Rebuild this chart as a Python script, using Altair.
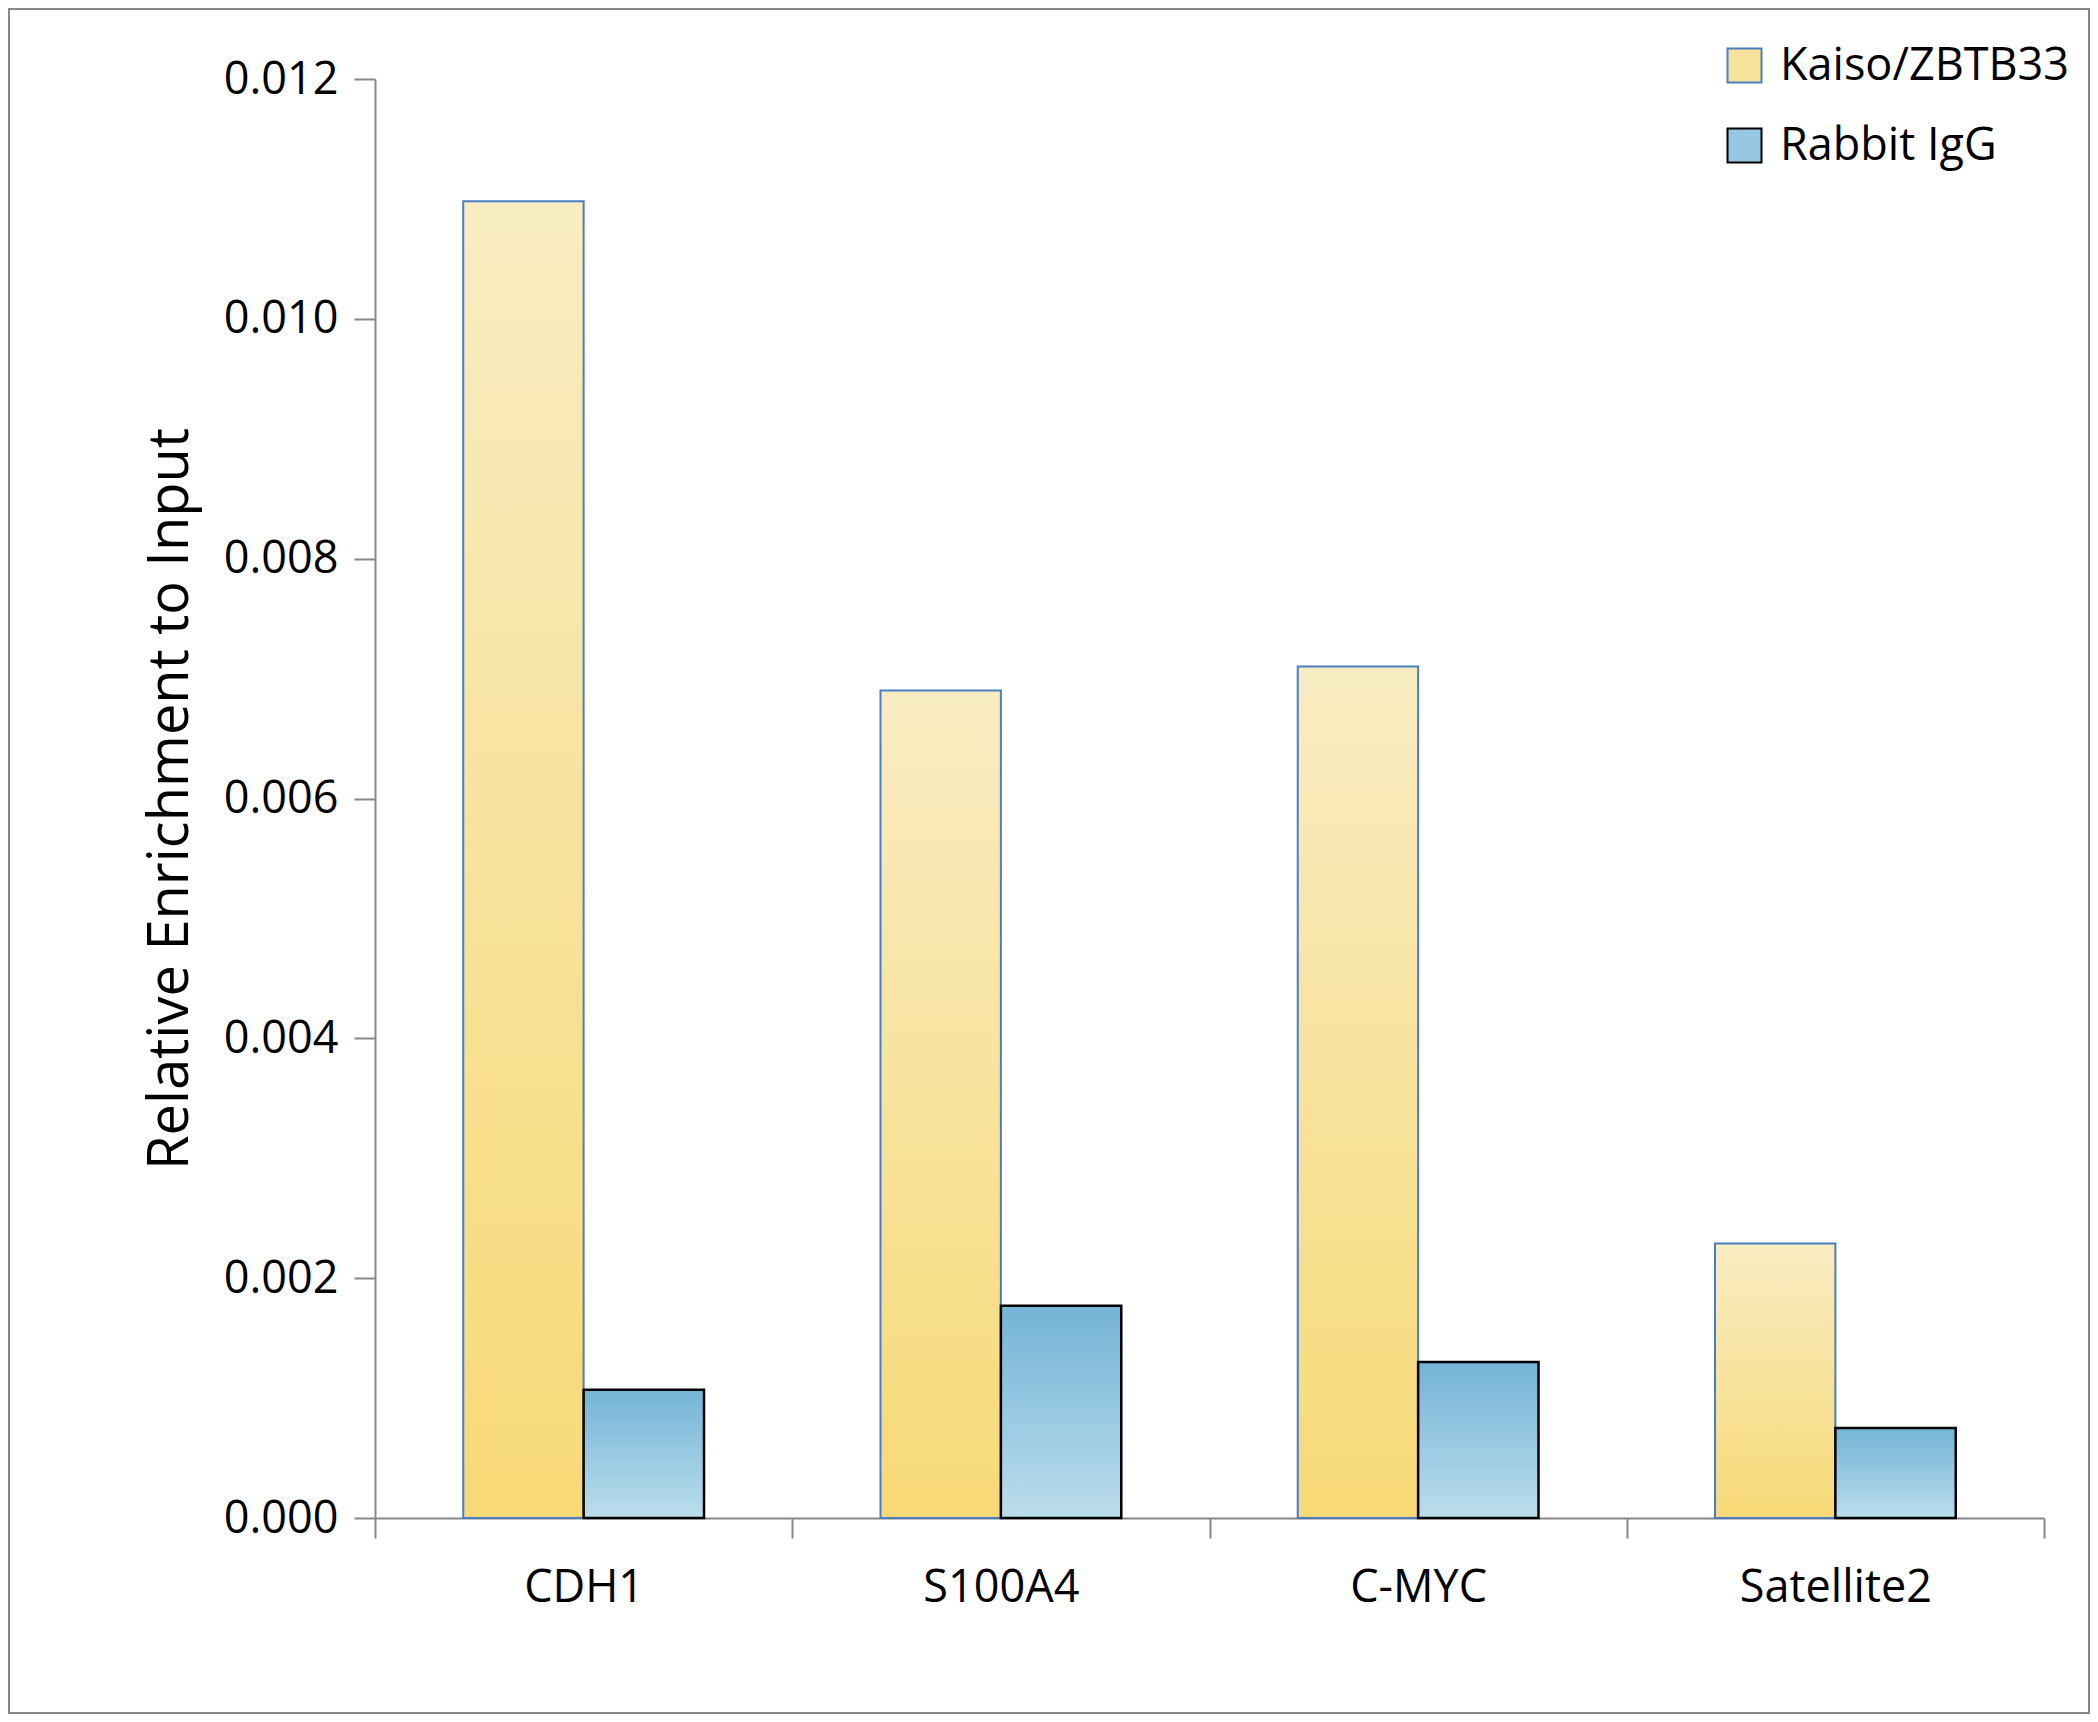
import altair as alt
import pandas as pd

categories = ["CDH1", "S100A4", "C-MYC", "Satellite2"]
series_names = ["Kaiso/ZBTB33", "Rabbit IgG"]
kaiso_values = [0.01098, 0.00690, 0.00710, 0.00229]
igg_values = [0.00107, 0.00177, 0.00130, 0.00075]
y_ticks = [0.000, 0.002, 0.004, 0.006, 0.008, 0.010, 0.012]

rows = []
for c, v in zip(categories, kaiso_values):
    rows.append({"category": c, "series": series_names[0], "value": v})
for c, v in zip(categories, igg_values):
    rows.append({"category": c, "series": series_names[1], "value": v})
df = pd.DataFrame(rows)

FONT = "Open Sans"
W, H = 1669, 1439

x_enc = alt.X(
    "category:N",
    sort=categories,
    scale=alt.Scale(paddingInner=0, paddingOuter=0),
    axis=alt.Axis(
        title=None, labelAngle=0, tickBand="extent", tickSize=20,
        tickColor="#878787", tickWidth=2, domainColor="#878787", domainWidth=2,
        labelFont=FONT, labelFontSize=45, labelColor="black", labelPadding=27,
        labelLimit=800,
    ),
)
xoff_enc = alt.XOffset(
    "series:N",
    scale=alt.Scale(domain=series_names, paddingInner=0, paddingOuter=0.733),
)
y_enc = alt.Y(
    "value:Q",
    scale=alt.Scale(domain=[0, 0.012], nice=False),
    axis=alt.Axis(
        title="Relative Enrichment to Input", values=y_ticks, format=".3f",
        tickSize=21, tickColor="#878787", tickWidth=2, domainColor="#878787",
        domainWidth=2, grid=False, labelFont=FONT, labelFontSize=45,
        labelColor="black", labelPadding=16, titleFont=FONT, titleFontSize=56,
        titleFontWeight="normal", titleColor="black", titlePadding=24,
    ),
)

kaiso_grad = alt.Gradient(
    gradient="linear", x1=0, y1=0, x2=0, y2=1,
    stops=[alt.GradientStop(color="#F8ECC2", offset=0),
           alt.GradientStop(color="#F7D976", offset=1)],
)
igg_grad = alt.Gradient(
    gradient="linear", x1=0, y1=0, x2=0, y2=1,
    stops=[alt.GradientStop(color="#74B4D6", offset=0),
           alt.GradientStop(color="#BBDDEC", offset=1)],
)

base = alt.Chart(df)

kaiso = base.transform_filter(alt.datum.series == series_names[0]).mark_bar(
    fill=kaiso_grad, stroke="#4A7EC1", strokeWidth=2
).encode(x=x_enc, xOffset=xoff_enc, y=y_enc)

igg = base.transform_filter(alt.datum.series == series_names[1]).mark_bar(
    fill=igg_grad, stroke="black", strokeWidth=2.5
).encode(x=x_enc, xOffset=xoff_enc, y=y_enc)

legend_layer = base.mark_square(opacity=0, size=0).encode(
    x=x_enc, y=y_enc,
    fill=alt.Fill(
        "series:N",
        scale=alt.Scale(domain=series_names, range=["#F7E29C", "#97C7E1"]),
        legend=alt.Legend(
            title=None, orient="none", legendX=1347, legendY=-36,
            symbolType="square", symbolSize=1156, symbolOpacity=1,
            symbolStrokeWidth=2, labelFont=FONT, labelFontSize=45,
            labelColor="black", labelOffset=13, rowPadding=34,
            labelLimit=600,
        ),
    ),
    stroke=alt.Stroke(
        "series:N",
        scale=alt.Scale(domain=series_names, range=["#4A7EC1", "black"]),
        legend=None,
    ),
)

frame = alt.Chart(pd.DataFrame({"a": [0]})).mark_rect(
    fill=None, stroke="#878787", strokeWidth=2
).encode(
    x=alt.value(-366), x2=alt.value(W + 45),
    y=alt.value(-70), y2=alt.value(H + 195),
)

chart = alt.layer(frame, kaiso, igg, legend_layer).properties(
    width=W, height=H,
    autosize=alt.AutoSizeParams(type="none"),
    padding={"left": 367, "top": 71, "right": 46, "bottom": 196},
    background="white",
).configure_view(stroke=None)

chart.save("out.html", embed_options={"renderer": "svg", "actions": False})
